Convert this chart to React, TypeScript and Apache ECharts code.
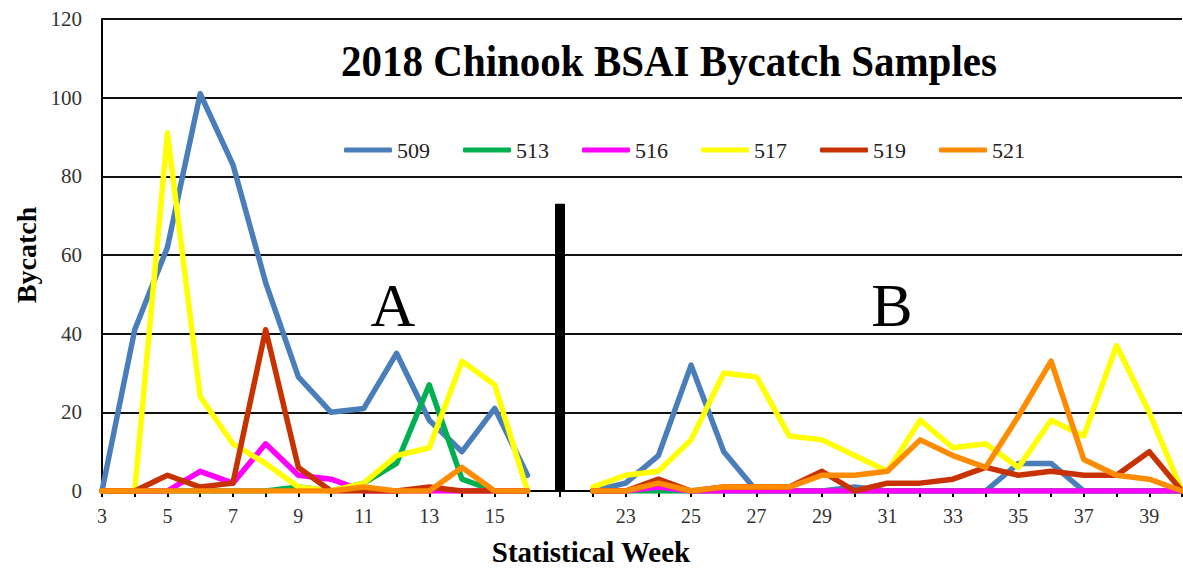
import React, { useEffect, useRef } from 'react';
import * as echarts from 'echarts';

const weeks = ['3','4','5','6','7','8','9','10','11','12','13','14','15','16','','22','23','24','25','26','27','28','29','30','31','32','33','34','35','36','37','38','39','40'];

const seriesNames = ['509', '513', '516', '517', '519', '521'];
const seriesColors = ['#4A7EBB', '#00B050', '#FF00FF', '#FFFF00', '#C83200', '#FF8C00'];

const v509 = [0,41,62,101,83,53,29,20,21,35,18,10,21,4, null, 0,2,9,32,10,0,0,0,1,0,0,0,0,7,7,0,0,0,0];
const v513 = [0,0,0,0,0,0,1,0,2,7,27,3,0,0, null, 0,0,0,0,0,0,0,0,0,0,0,0,0,0,0,0,0,0,0];
const v516 = [0,0,0,5,2,12,4,3,0,0,0,0,0,0, null, 0,0,1,0,0,0,0,0,0,0,0,0,0,0,0,0,0,0,0];
const v517 = [0,0,91,24,12,7,1,0,2,9,11,33,27,0, null, 1,4,5,13,30,29,14,13,9,5,18,11,12,6,18,14,37,20,0];
const v519 = [0,0,4,1,2,41,6,0,0,0,1,0,0,0, null, 0,0,3,0,1,1,1,5,0,2,2,3,6,4,5,4,4,10,0];
const v521 = [0,0,0,0,0,0,0,0,1,0,0,6,0,0, null, 0,0,2,0,1,1,1,4,4,5,13,9,6,19,33,8,4,3,0];

const seriesValues = [v509, v513, v516, v517, v519, v521];

const yTicks = { min: 0, max: 120, interval: 20 };
const dividerIndex = 14;
const dividerTop = 73;

const titleText = '2018 Chinook BSAI Bycatch Samples';
const xName = 'Statistical Week';
const yName = 'Bycatch';
const sectionLabels = ['A', 'B'];

const SERIF = '"Times New Roman", "Liberation Serif", serif';

export default function App() {
  const ref = useRef<HTMLDivElement>(null);
  useEffect(() => {
    if (!ref.current) return;
    const chart = echarts.init(ref.current, undefined, { renderer: 'svg' });
    const series: any[] = seriesNames.map((name, i) => ({
      name,
      type: 'line',
      data: seriesValues[i],
      color: seriesColors[i],
      showSymbol: false,
      symbol: 'none',
      connectNulls: false,
      lineStyle: { width: 5.5, color: seriesColors[i], cap: 'round', join: 'round' },
      z: 3 + i,
    }));
    series[0].markLine = {
      silent: true,
      symbol: ['none', 'none'],
      label: { show: false },
      lineStyle: { color: '#000', width: 10, type: 'solid', cap: 'butt' },
      data: [[{ coord: [dividerIndex, 0] }, { coord: [dividerIndex, dividerTop] }]],
      z: 20,
    };
    chart.setOption({
      animation: false,
      grid: { left: 102, right: 1, top: 19, bottom: 77, containLabel: false },
      xAxis: {
        type: 'category',
        data: weeks,
        boundaryGap: false,
        axisLine: { show: true, lineStyle: { color: '#000', width: 2 } },
        axisTick: { show: true, interval: 0, length: 6, inside: false, lineStyle: { color: '#000', width: 2 } },
        axisLabel: { interval: 1, margin: 15, fontFamily: SERIF, fontSize: 20, color: '#333' },
        splitLine: { show: false },
      },
      yAxis: {
        type: 'value',
        min: yTicks.min,
        max: yTicks.max,
        interval: yTicks.interval,
        axisLine: { show: true, lineStyle: { color: '#000', width: 2 } },
        axisTick: { show: false },
        axisLabel: { margin: 20, fontFamily: SERIF, fontSize: 21, color: '#333' },
        splitLine: { show: true, lineStyle: { color: '#111', width: 2 } },
      },
      legend: {
        data: seriesNames,
        left: 339,
        top: 134,
        icon: 'roundRect',
        itemWidth: 48,
        itemHeight: 5,
        itemGap: 33,
        textStyle: { fontFamily: SERIF, fontSize: 22, color: '#222' },
      },
      graphic: [
        {
          type: 'text',
          x: 669,
          y: 61,
          scaleY: 1.1,
          style: { text: titleText, fontFamily: SERIF, fontWeight: 'bold', fontSize: 41, fill: '#000', textAlign: 'center', textVerticalAlign: 'middle' },
          z: 50,
        },
        {
          type: 'text',
          x: 393,
          y: 305,
          style: { text: sectionLabels[0], fontFamily: SERIF, fontSize: 62, fill: '#000', textAlign: 'center', textVerticalAlign: 'middle' },
          z: 50,
        },
        {
          type: 'text',
          x: 892,
          y: 305,
          style: { text: sectionLabels[1], fontFamily: SERIF, fontSize: 62, fill: '#000', textAlign: 'center', textVerticalAlign: 'middle' },
          z: 50,
        },
        {
          type: 'text',
          x: 591,
          y: 552,
          style: { text: xName, fontFamily: SERIF, fontWeight: 'bold', fontSize: 29, fill: '#000', textAlign: 'center', textVerticalAlign: 'middle' },
          z: 50,
        },
        {
          type: 'text',
          x: 26,
          y: 255,
          rotation: Math.PI / 2,
          style: { text: yName, fontFamily: SERIF, fontWeight: 'bold', fontSize: 28, fill: '#000', textAlign: 'center', textVerticalAlign: 'middle' },
          z: 50,
        },
      ],
      series,
    });
    return () => chart.dispose();
  }, []);
  return <div ref={ref} style={{ position: 'fixed', left: 0, top: 0, width: 1183, height: 568, background: '#fff' }} />;
}
